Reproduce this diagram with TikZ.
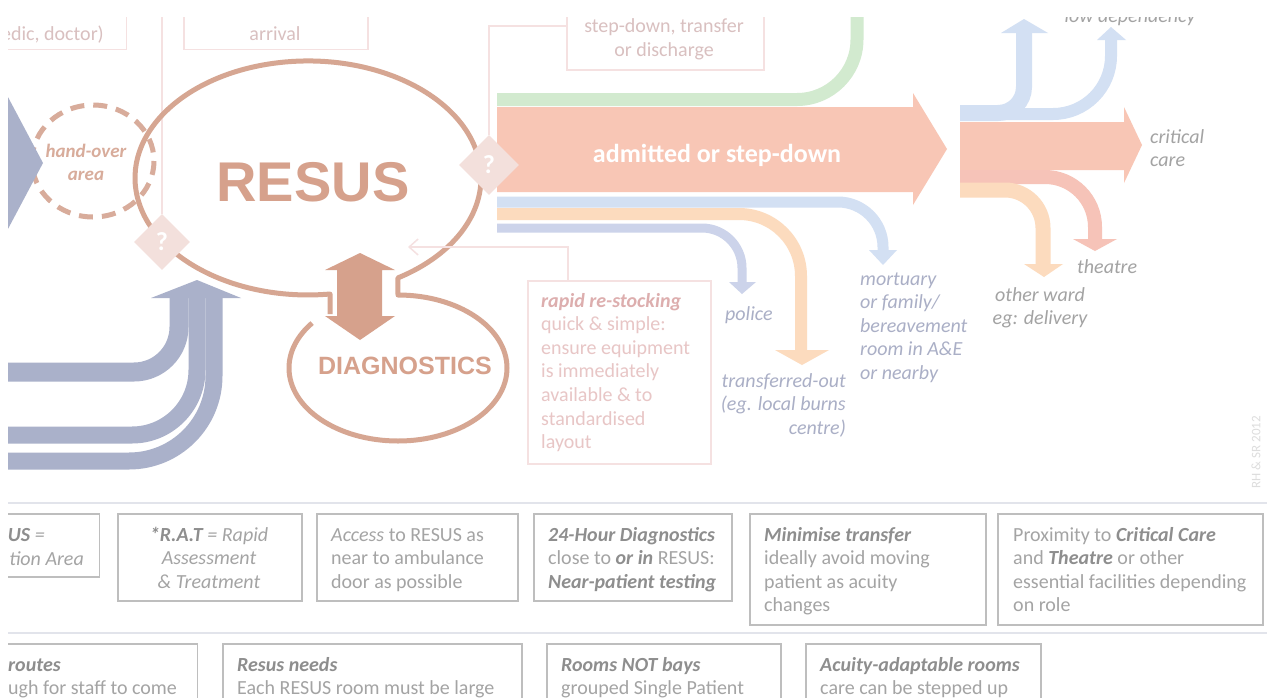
\documentclass[tikz,border=0pt]{standalone}
\usepackage{fontspec}
\setmainfont{Carlito}
\newfontfamily\headfont{Liberation Sans}
\usetikzlibrary{shapes.geometric,arrows.meta}

\definecolor{brownline}{HTML}{D6A692}
\definecolor{brownfill}{HTML}{D6A18C}
\definecolor{handover}{HTML}{D8AC9B}
\definecolor{palepink}{HTML}{F5E1E1}
\definecolor{pinktext}{HTML}{D9C0C0}
\definecolor{restock}{HTML}{E8C6C6}
\definecolor{restockhead}{HTML}{DDAEAE}
\definecolor{diamondfill}{HTML}{F3E0DC}
\definecolor{salmon}{HTML}{F8C6B5}
\definecolor{salmonpink}{HTML}{F6C3B8}
\definecolor{greenband}{HTML}{D2EACF}
\definecolor{blueband}{HTML}{D3E0F3}
\definecolor{orangeband}{HTML}{FCDBBE}
\definecolor{lavband}{HTML}{CCD3EA}
\definecolor{inblue}{HTML}{AAB1CA}
\definecolor{destgrey}{HTML}{A3A3A3}
\definecolor{destblue}{HTML}{AAAFC6}
\definecolor{boxline}{HTML}{BEBEBE}
\definecolor{boxtext}{HTML}{A4A4A4}
\definecolor{boxhead}{HTML}{8E8E8E}
\definecolor{rulecol}{HTML}{E2E4EB}
\definecolor{credit}{HTML}{DDDDDD}

\pgfdeclarelayer{under}
\pgfsetlayers{under,main}

\newcommand\hl[1]{\textcolor{boxhead}{\textbf{\textit{#1}}}}

% multi-line nodes are placed by the baseline of their last line
\tikzset{
  txt/.style={inner sep=0pt, font=\fontsize{20}{23.6}\selectfont},
  dest/.style={txt, text=destgrey, font=\fontsize{20}{23.6}\selectfont\itshape, align=left},
  destb/.style={dest, text=destblue},
  topbox/.style={draw=palepink, line width=1.5pt, rectangle, inner sep=0pt},
  toptext/.style={txt, text=pinktext, align=center},
  notebox/.style={draw=boxline, line width=1.5pt, rectangle, inner sep=0pt},
  notetext/.style={txt, text=boxtext, align=left},
  diamondq/.style={diamond, fill=diamondfill, minimum width=56pt, minimum height=56pt,
    inner sep=0pt, text=white, font=\fontsize{26}{26}\selectfont\bfseries},
  thinpink/.style={draw=palepink, line width=1.5pt},
  outline/.style={draw=brownline, line width=5pt, line join=round},
}

\begin{document}
\begin{tikzpicture}[x=1pt,y=-1pt]
\useasboundingbox (0,0) rectangle (1267,697);
\begin{pgfonlayer}{under}
\fill[white] (0,0) rectangle (1267,697);
\end{pgfonlayer}
\begin{scope}
\clip (8,17) rectangle (1267,697);

% separators between the drawing and the notes
\draw[rulecol, line width=2pt] (0,503) -- (1267,503);
\draw[rulecol, line width=1.5pt] (0,633) -- (1267,633);

% boxes along the top edge
\node[topbox, minimum width=160pt, minimum height=70pt, anchor=south east] (boxA) at (127,50) {};
\node[toptext, anchor=base east] (txtA) at (104,40) {edic, doctor)};
\node[topbox, minimum width=184pt, minimum height=70pt, anchor=south west] (boxB) at (183,50) {};
\node[toptext, anchor=base] (txtB) at (275,40) {arrival};
\node[topbox, minimum width=197pt, minimum height=88pt, anchor=north west] (sdbox) at (566,-19) {};
\node[toptext, anchor=base] (txtC) at (664,56) {step-down, transfer\\or discharge};

% free ends of connectors
\coordinate (topcut) at (0,17);
\coordinate (rstip) at (408,247);

% outgoing streams from RESUS
\draw[greenband, line width=13pt, rounded corners=60pt] (497,99.5) -- (857,99.5) -- (857,0);
\fill[salmon] (497,107) -- (913,107) -- (913,93) -- (947,149) -- (913,205) -- (913,192) -- (497,192) -- cycle;
\node[txt, text=white, font=\fontsize{26}{26}\selectfont\bfseries, anchor=base] (adm) at (717,162) {admitted or step-down};

\draw[blueband, line width=11pt, rounded corners=45pt] (497,202) -- (883,202) -- (883,251);
\fill[blueband] (869,250) -- (897,250) -- (883,265) -- cycle;
\draw[orangeband, line width=12pt, rounded corners=62pt] (497,214) -- (801,214) -- (801,351);
\fill[orangeband] (775,350) -- (829,350) -- (802,365) -- cycle;
\draw[lavband, line width=9pt, rounded corners=40pt] (497,228) -- (742,228) -- (742,283);
\fill[lavband] (729,282) -- (756,282) -- (742,294) -- cycle;

% onward streams after admission
\draw[blueband, line width=16pt, rounded corners=26pt] (960,113) -- (1024,113) -- (1024,33);
\fill[blueband] (1001,33) -- (1024,19) -- (1048,33) -- cycle;
\draw[blueband, line width=12pt, rounded corners=58pt] (990,114) -- (1111,114) -- (1111,40);
\fill[blueband] (1097,40) -- (1111,27) -- (1126,40) -- cycle;
\fill[salmon] (960,122) -- (1124,122) -- (1124,107) -- (1142,145) -- (1124,183) -- (1124,170) -- (960,170) -- cycle;
\draw[salmonpink, line width=14pt, rounded corners=50pt] (960,177) -- (1095,177) -- (1095,239);
\fill[salmonpink] (1073,239) -- (1117,239) -- (1095,251) -- cycle;
\draw[orangeband, line width=15pt, rounded corners=38pt] (960,190) -- (1043,190) -- (1043,264);
\fill[orangeband] (1024,264) -- (1063,264) -- (1044,277) -- cycle;

% incoming streams
\draw[inblue, line width=19pt, rounded corners=45pt] (0,372) -- (179,372) -- (179,298);
\draw[inblue, line width=17pt, rounded corners=65pt] (0,435) -- (197,435) -- (197,298);
\draw[inblue, line width=17pt, rounded corners=85pt] (0,461) -- (214,461) -- (214,298);
\fill[inblue] (151,298) -- (197,280) -- (241,298) -- cycle;

% hand-over area
\draw[handover, line width=5pt, dash pattern=on 14pt off 9pt] (93,161) ellipse [x radius=61, y radius=56];
\fill[inblue] (0,82) -- (43,163) -- (0,244) -- cycle;
\node[txt, text=handover, font=\fontsize{19}{23.6}\selectfont\bfseries\itshape, align=center, anchor=base] (hotxt) at (86,180.6) {hand-over\\area};

% RESUS and DIAGNOSTICS outline
\draw[outline] (330,314) -- (330,294)
  arc[start angle=82.7, end angle=418.7, x radius=173, y radius=117]
  -- (398,295)
  arc[start angle=-90, end angle=218, x radius=109, y radius=73];
\fill[brownfill] (360,253) -- (395,270) -- (382,270) -- (382,316) -- (395,316) -- (360,340)
  -- (325,316) -- (337,316) -- (337,270) -- (325,270) -- cycle;
\node[inner sep=0pt, text=brownfill, font=\headfont\bfseries\fontsize{56}{56}\selectfont] (resus) at (313,182.5) {RESUS};
\node[inner sep=0pt, text=brownfill, font=\headfont\bfseries\fontsize{25}{25}\selectfont] (diag) at (405,366) {DIAGNOSTICS};

% decision diamonds and their connectors
\node[diamondq] (dq1) at (162,242) {?};
\node[diamondq, minimum width=60pt, minimum height=60pt] (dq2) at (489,165) {?};
\begin{pgfonlayer}{under}
\draw[thinpink] (dq1.north) -- (dq1.north |- topcut);
\draw[thinpink] (dq2.north) |- (sdbox.west);
\end{pgfonlayer}

% rapid re-stocking note
\node[topbox, minimum width=183pt, minimum height=183pt, anchor=north west] (rsbox) at (527,280) {};
\node[txt, text=restock, align=left, anchor=base west] (rstxt) at (541,448.6)
  {\textcolor{restockhead}{\textbf{\textit{rapid re-stocking}}}\\quick \& simple:\\ensure equipment\\is immediately\\available \& to\\standardised\\layout};
\draw[thinpink, -{Straight Barb[length=9pt, width=16pt]}] ([xshift=41pt]rsbox.north west) |- (rstip);

% destinations
\node[dest, anchor=base] (lowdep) at (1130,22) {low dependency};
\node[dest, anchor=base west] (crit) at (1150,166.6) {critical\\care};
\node[dest, anchor=base west] (theatre) at (1077,273) {theatre};
\node[dest, align=center, anchor=base] (ward) at (1040,324.6) {other ward\\eg: delivery};
\node[destb, anchor=base west] (mort) at (860,379.4) {mortuary\\or family/\\bereavement\\room in A\&E\\or nearby};
\node[destb, anchor=base west] (police) at (725,320) {police};
\node[destb, align=right, anchor=base east] (xfer) at (846,434.2) {transferred-out\\(eg. local burns\\centre)};

\node[rotate=90, inner sep=0pt, text=credit, font=\fontsize{13}{13}\selectfont] (credit) at (1256,452) {RH \& SR 2012};

% notes, first row
\node[notebox, minimum width=120pt, minimum height=63pt, anchor=north east] (nA) at (100,513) {};
\node[notetext, anchor=base east] (tA1) at (45,541) {\hl{US} \textit{=}};
\node[notetext, anchor=base east] (tA2) at (84,565) {\textit{tion Area}};
\node[notebox, minimum width=184pt, minimum height=87pt, anchor=north west] (nB) at (117,513) {};
\node[notetext, align=center, anchor=base] (tB) at (209,588.2) {\textit{\hl{*R.A.T} = Rapid}\\\textit{Assessment}\\\textit{\& Treatment}};
\node[notebox, minimum width=201pt, minimum height=87pt, anchor=north west] (nC) at (316,513) {};
\node[notetext, anchor=base west] (tC) at (331,588.2) {\textit{Access} to RESUS as\\near to ambulance\\door as possible};
\node[notebox, minimum width=198pt, minimum height=87pt, anchor=north west] (nD) at (533,513) {};
\node[notetext, anchor=base west] (tD) at (548,588.2) {\hl{24-Hour Diagnostics}\\close to \hl{or in} RESUS:\\\hl{Near-patient testing}};
\node[notebox, minimum width=236pt, minimum height=111pt, anchor=north west] (nE) at (749,513) {};
\node[notetext, anchor=base west] (tE) at (764,611.8) {\hl{Minimise transfer}\\ideally avoid moving\\patient as acuity\\changes};
\node[notebox, minimum width=265pt, minimum height=111pt, anchor=north west] (nF) at (997,513) {};
\node[notetext, anchor=base west] (tF) at (1013,611.8) {Proximity to \hl{Critical Care}\\and \hl{Theatre} or other\\essential facilities depending\\on role};

% notes, second row
\node[notebox, minimum width=230pt, minimum height=80pt, anchor=north east] (nG) at (198,643) {};
\node[notetext, anchor=base west] (tG) at (8,694.6) {\hl{routes}\\ugh for staff to come};
\node[notebox, minimum width=299pt, minimum height=80pt, anchor=north west] (nH) at (222,643) {};
\node[notetext, anchor=base west] (tH) at (237,694.6) {\hl{Resus needs}\\Each RESUS room must be large};
\node[notebox, minimum width=234pt, minimum height=80pt, anchor=north west] (nI) at (546,643) {};
\node[notetext, anchor=base west] (tI) at (561,694.6) {\hl{Rooms NOT bays}\\grouped Single Patient};
\node[notebox, minimum width=235pt, minimum height=80pt, anchor=north west] (nJ) at (805,643) {};
\node[notetext, anchor=base west] (tJ) at (820,694.6) {\hl{Acuity-adaptable rooms}\\care can be stepped up};

\end{scope}
\end{tikzpicture}
\end{document}
